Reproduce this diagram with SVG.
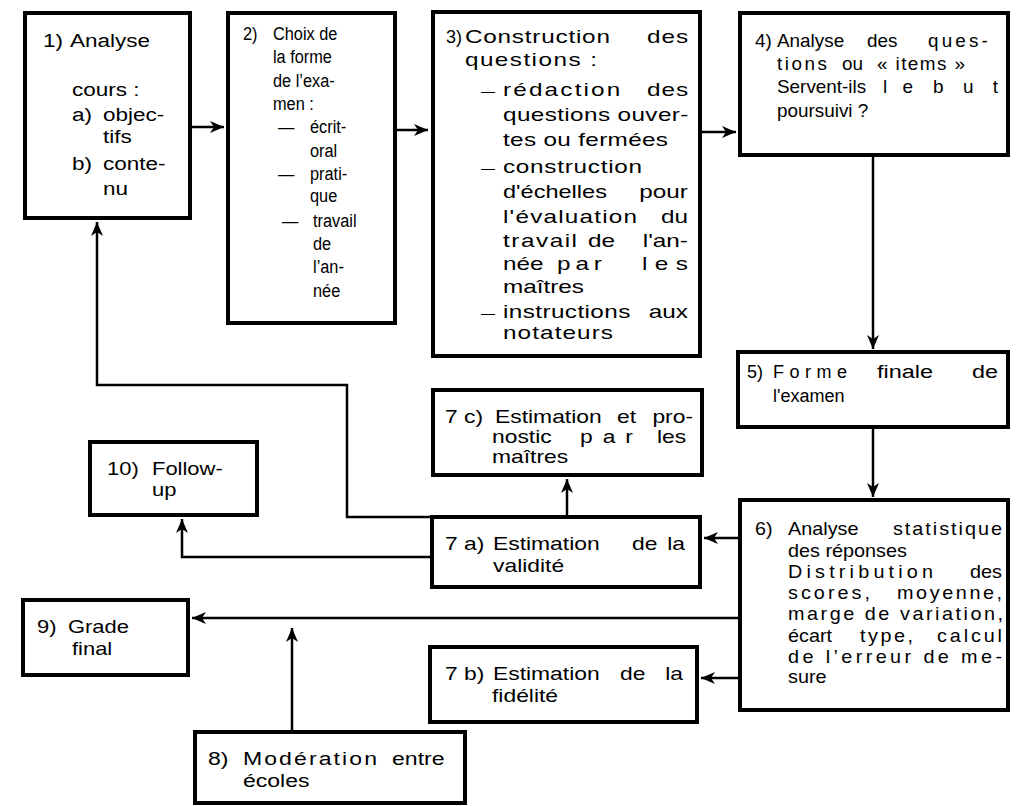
<svg xmlns="http://www.w3.org/2000/svg" width="1016" height="806" viewBox="0 0 1016 806">
<defs>
<style>
text{font-family:"Liberation Sans",Arial,Helvetica,sans-serif;font-size:18px;fill:#000}
.e{text-anchor:end}
.b2 text{font-size:19px}
text.d{font-size:14px}
.box{fill:#fff;stroke:#000;stroke-width:4}
.c{fill:none;stroke:#000;stroke-width:2.5}
</style>
<marker id="ah" markerUnits="userSpaceOnUse" markerWidth="14" markerHeight="12" refX="14" refY="6" orient="auto">
<path d="M0,0 L14,6 L0,12 L4,6 Z" fill="#000"/>
</marker>
</defs>
<rect width="1016" height="806" fill="#fff"/>

<g id="connectors">
<path class="c" marker-end="url(#ah)" d="M190,127 H224"/>
<path class="c" marker-end="url(#ah)" d="M395,130 H428"/>
<path class="c" marker-end="url(#ah)" d="M700,132 H736"/>
<path class="c" marker-end="url(#ah)" d="M873,155 V349"/>
<path class="c" marker-end="url(#ah)" d="M873,427 V497"/>
<path class="c" marker-end="url(#ah)" d="M740,538 H704"/>
<path class="c" marker-end="url(#ah)" d="M740,678 H701"/>
<path class="c" marker-end="url(#ah)" d="M740,618 H192"/>
<path class="c" marker-end="url(#ah)" d="M292,732 V628"/>
<path class="c" marker-end="url(#ah)" d="M567,517 V479"/>
<path class="c" marker-end="url(#ah)" d="M432,557 H182 V519"/>
<path class="c" marker-end="url(#ah)" d="M432,517 H347 V385 H97 V222"/>
</g>

<g id="n1">
<rect class="box" x="25" y="13" width="165" height="205"/>
<g transform="scale(1.25 1)">
<text x="34.4" y="47">1)</text>
<text x="56" y="47">Analyse</text>
<text x="57.6" y="96">cours :</text>
<text x="57.6" y="121">a)</text>
<text x="82.4" y="121">objec-</text>
<text x="82.4" y="143">tifs</text>
<text x="57.6" y="170">b)</text>
<text x="82.4" y="170">conte-</text>
<text x="82.4" y="195">nu</text>
</g>
</g>

<g id="n2" class="b2">
<rect class="box" x="228" y="13" width="167" height="310"/>
<g transform="scale(0.86 1)">
<text x="282.6" y="40">2)</text>
<text x="317.4" y="40">Choix de</text>
<text x="317.4" y="63">la forme</text>
<text x="317.4" y="87">de l’exa-</text>
<text x="317.4" y="110">men :</text>
<text x="323.3" y="133">—</text>
<text x="360.5" y="133">écrit-</text>
<text x="360.5" y="157">oral</text>
<text x="323.3" y="180">—</text>
<text x="360.5" y="180">prati-</text>
<text x="360.5" y="202">que</text>
<text x="327.9" y="227">—</text>
<text x="364" y="227">travail</text>
<text x="364" y="250">de</text>
<text x="364" y="273">l’an-</text>
<text x="364" y="297">née</text>
</g>
</g>

<g id="n3">
<rect class="box" x="433" y="12" width="267" height="344"/>
<text x="446" y="43">3)</text>
<text class="d" x="481" y="96">—</text>
<text class="d" x="481" y="173">—</text>
<text class="d" x="481" y="318">—</text>
<g transform="scale(1.35 1)">
<text x="344.4" y="43" textLength="107.4" lengthAdjust="spacing">Construction</text>
<text x="479.3" y="43" textLength="30.4" lengthAdjust="spacing">des</text>
<text x="344.4" y="66" textLength="97.8" lengthAdjust="spacing">questions :</text>
<text x="372.6" y="96" textLength="86.9" lengthAdjust="spacing">rédaction</text>
<text x="479.3" y="96" textLength="30.4" lengthAdjust="spacing">des</text>
<text x="372.6" y="121" textLength="137.3" lengthAdjust="spacing">questions ouver-</text>
<text x="372.6" y="146" textLength="122.2" lengthAdjust="spacing">tes ou fermées</text>
<text x="372.6" y="173" textLength="103" lengthAdjust="spacing">construction</text>
<text x="372.6" y="198" textLength="77" lengthAdjust="spacingAndGlyphs">d'échelles</text>
<text class="e" x="509.6" y="198">pour</text>
<text x="372.6" y="223" textLength="99.3" lengthAdjust="spacing">l'évaluation</text>
<text class="e" x="509.6" y="223">du</text>
<text x="372.6" y="247" textLength="54.8" lengthAdjust="spacing">travail</text>
<text x="435.6" y="247">de</text>
<text class="e" x="509.6" y="247">l'an-</text>
<text x="372.6" y="270">née</text>
<text x="412.6" y="270" textLength="33.3" lengthAdjust="spacing">par</text>
<text x="475.6" y="270" textLength="34" lengthAdjust="spacing">les</text>
<text x="372.6" y="293">maîtres</text>
<text x="372.6" y="318" textLength="94.3" lengthAdjust="spacing">instructions</text>
<text class="e" x="509.6" y="318">aux</text>
<text x="372.6" y="339" textLength="81.5" lengthAdjust="spacing">notateurs</text>
</g>
</g>

<g id="n4">
<rect class="box" x="740" y="13" width="268" height="142"/>
<g transform="scale(1.05 1)">
<text x="719" y="47">4)</text>
<text x="740" y="47">Analyse</text>
<text x="825.7" y="47">des</text>
<text x="883.8" y="47" textLength="57" lengthAdjust="spacing">ques-</text>
<text x="740" y="70" textLength="47.6" lengthAdjust="spacing">tions</text>
<text x="801.9" y="70">ou</text>
<text x="835.2" y="70" textLength="83.8" lengthAdjust="spacing">« items »</text>
<text x="740" y="93">Servent-ils</text>
<text x="841" y="93" textLength="28.6" lengthAdjust="spacing">le</text>
<text x="888.6" y="93" textLength="61.9" lengthAdjust="spacing">but</text>
<text x="740" y="117">poursuivi ?</text>
</g>
</g>

<g id="n5">
<rect class="box" x="738" y="352" width="270" height="75"/>
<text x="747" y="378">5)</text>
<text x="773" y="378" textLength="74" lengthAdjust="spacing">Forme</text>
<text x="877" y="378" textLength="56" lengthAdjust="spacingAndGlyphs">finale</text>
<text x="972" y="378" textLength="26" lengthAdjust="spacingAndGlyphs">de</text>
<text x="773" y="402">l'examen</text>
</g>

<g id="n6">
<rect class="box" x="740" y="500" width="268" height="210"/>
<g transform="scale(1.1 1)">
<text x="686.4" y="535">6)</text>
<text x="716.4" y="535">Analyse</text>
<text x="811.8" y="535" textLength="99.1" lengthAdjust="spacing">statistique</text>
<text x="716.4" y="557">des réponses</text>
<text x="716.4" y="578" textLength="131.8" lengthAdjust="spacing">Distribution</text>
<text class="e" x="910.9" y="578">des</text>
<text x="716.4" y="599" textLength="74.5" lengthAdjust="spacing">scores,</text>
<text x="815.5" y="599" textLength="95.5" lengthAdjust="spacing">moyenne,</text>
<text x="716.4" y="620" textLength="195.5" lengthAdjust="spacing">marge de variation,</text>
<text x="716.4" y="642">écart</text>
<text x="781.8" y="642" textLength="48.2" lengthAdjust="spacing">type,</text>
<text x="851.8" y="642" textLength="59.1" lengthAdjust="spacing">calcul</text>
<text x="716.4" y="663" textLength="194.5" lengthAdjust="spacing">de l’erreur de me-</text>
<text x="716.4" y="683">sure</text>
</g>
</g>

<g id="n7c">
<rect class="box" x="433" y="390" width="269" height="85"/>
<g transform="scale(1.27 1)">
<text x="350.4" y="423">7 c)</text>
<text x="389.8" y="423">Estimation</text>
<text x="485.8" y="423">et</text>
<text class="e" x="545.7" y="423">pro-</text>
<text x="387.4" y="443">nostic</text>
<text x="456.7" y="443" textLength="41.7" lengthAdjust="spacing">par</text>
<text x="517.3" y="443">les</text>
<text x="387.4" y="463">maîtres</text>
</g>
</g>

<g id="n7a">
<rect class="box" x="432" y="517" width="268" height="70"/>
<g transform="scale(1.27 1)">
<text x="350.4" y="550">7 a)</text>
<text x="388.2" y="550">Estimation</text>
<text x="497.6" y="550">de</text>
<text class="e" x="539.4" y="550">la</text>
<text x="388.2" y="572">validité</text>
</g>
</g>

<g id="n7b">
<rect class="box" x="430" y="647" width="267" height="75"/>
<g transform="scale(1.27 1)">
<text x="350.4" y="680">7 b)</text>
<text x="388.2" y="680">Estimation</text>
<text x="488.2" y="680">de</text>
<text class="e" x="537.8" y="680">la</text>
<text x="387.4" y="702">fidélité</text>
</g>
</g>

<g id="n8">
<rect class="box" x="195" y="732" width="270" height="71"/>
<g transform="scale(1.28 1)">
<text x="162.5" y="765">8)</text>
<text x="189.8" y="765" textLength="104.7" lengthAdjust="spacing">Modération</text>
<text x="306.3" y="765">entre</text>
<text x="189.8" y="787">écoles</text>
</g>
</g>

<g id="n9">
<rect class="box" x="23" y="600" width="165" height="75"/>
<g transform="scale(1.22 1)">
<text x="30.3" y="633">9)</text>
<text x="55.7" y="633">Grade</text>
<text x="59" y="655">final</text>
</g>
</g>

<g id="n10">
<rect class="box" x="90" y="442" width="167" height="73"/>
<g transform="scale(1.22 1)">
<text x="87.7" y="475">10)</text>
<text x="124.6" y="475">Follow-</text>
<text x="124.6" y="496">up</text>
</g>
</g>
</svg>
